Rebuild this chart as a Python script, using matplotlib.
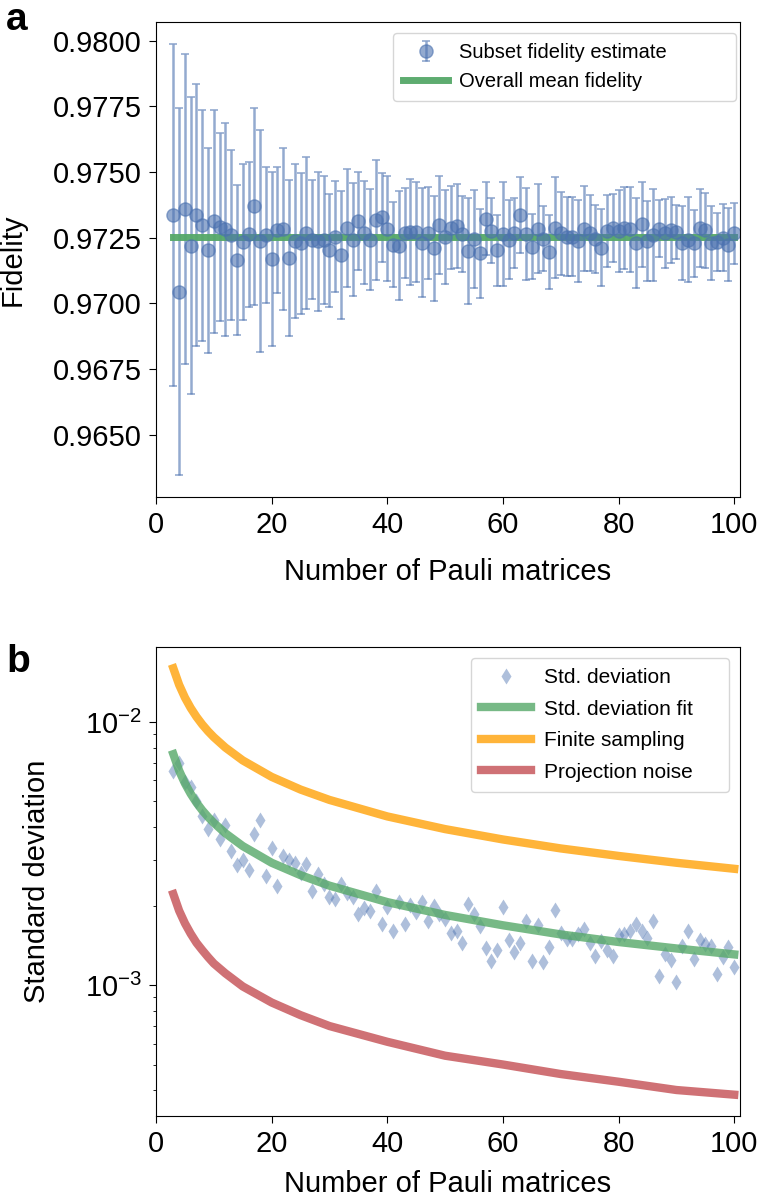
import numpy as np
import matplotlib
matplotlib.use("Agg")
import matplotlib.pyplot as plt

plt.rcParams['font.family'] = ['Liberation Sans', 'DejaVu Sans']
plt.rcParams['font.size'] = 21
plt.rcParams['xtick.major.size'] = 5
plt.rcParams['ytick.major.size'] = 5
plt.rcParams['xtick.major.pad'] = 5
plt.rcParams['ytick.major.pad'] = 5

# Number of Pauli matrices in each subset
n_pauli = list(range(3, 101))

# Subset fidelity estimates (panel a)
fidelity = [
    0.97337, 0.97045, 0.97359, 0.97220, 0.97337, 0.97298, 0.97202, 0.97312, 0.97291, 0.97282,
    0.97259, 0.97164, 0.97233, 0.97263, 0.97369, 0.97237, 0.97259, 0.97169, 0.97279, 0.97282,
    0.97173, 0.97237, 0.97228, 0.97267, 0.97243, 0.97237, 0.97240, 0.97202, 0.97254, 0.97183,
    0.97286, 0.97243, 0.97314, 0.97269, 0.97243, 0.97318, 0.97327, 0.97285, 0.97224, 0.97220,
    0.97267, 0.97272, 0.97272, 0.97231, 0.97269, 0.97209, 0.97297, 0.97254, 0.97288, 0.97295,
    0.97263, 0.97199, 0.97246, 0.97190, 0.97323, 0.97276, 0.97202, 0.97263, 0.97243, 0.97267,
    0.97337, 0.97263, 0.97215, 0.97285, 0.97246, 0.97195, 0.97288, 0.97267, 0.97254, 0.97254,
    0.97237, 0.97285, 0.97267, 0.97246, 0.97212, 0.97276, 0.97288, 0.97276, 0.97288, 0.97282,
    0.97231, 0.97301, 0.97237, 0.97259, 0.97285, 0.97267, 0.97279, 0.97272, 0.97231, 0.97243,
    0.97228, 0.97288, 0.97279, 0.97231, 0.97233, 0.97250, 0.97224, 0.97267,
]

# Standard deviation of the subset estimates (error bars in a, diamonds in b)
std_dev = [
    6.52e-3, 7.00e-3, 5.90e-3, 5.66e-3, 5.00e-3, 4.40e-3, 3.91e-3, 4.23e-3, 3.58e-3, 4.06e-3,
    3.23e-3, 2.86e-3, 2.98e-3, 2.75e-3, 3.74e-3, 4.24e-3, 2.59e-3, 3.33e-3, 2.39e-3, 3.09e-3,
    2.98e-3, 2.92e-3, 2.67e-3, 2.89e-3, 2.28e-3, 2.65e-3, 2.43e-3, 2.16e-3, 2.12e-3, 2.43e-3,
    2.24e-3, 2.16e-3, 1.86e-3, 1.97e-3, 1.91e-3, 2.28e-3, 1.71e-3, 1.98e-3, 1.61e-3, 2.07e-3,
    1.71e-3, 2.01e-3, 1.90e-3, 2.08e-3, 1.75e-3, 2.00e-3, 1.87e-3, 1.79e-3, 1.58e-3, 1.61e-3,
    1.45e-3, 2.03e-3, 1.87e-3, 1.68e-3, 1.39e-3, 1.24e-3, 1.36e-3, 1.98e-3, 1.49e-3, 1.34e-3,
    1.45e-3, 1.75e-3, 1.24e-3, 1.69e-3, 1.23e-3, 1.40e-3, 1.93e-3, 1.58e-3, 1.50e-3, 1.50e-3,
    1.56e-3, 1.63e-3, 1.45e-3, 1.29e-3, 1.47e-3, 1.36e-3, 1.29e-3, 1.55e-3, 1.56e-3, 1.61e-3,
    1.71e-3, 1.61e-3, 1.51e-3, 1.75e-3, 1.08e-3, 1.32e-3, 1.25e-3, 1.03e-3, 1.41e-3, 1.61e-3,
    1.26e-3, 1.49e-3, 1.43e-3, 1.41e-3, 1.10e-3, 1.28e-3, 1.40e-3, 1.17e-3,
]

mean_fidelity = 0.97254

# Model curves read at selected subset sizes (panel b)
curve_n = [3, 4, 5, 6, 7, 8, 9, 10, 12, 15, 20, 25, 30, 40, 50, 60, 70, 80, 90, 100]
fit_curve = [7.55e-3, 6.54e-3, 5.85e-3, 5.34e-3, 4.94e-3, 4.62e-3, 4.36e-3, 4.14e-3, 3.78e-3, 3.38e-3,
             2.92e-3, 2.62e-3, 2.39e-3, 2.07e-3, 1.85e-3, 1.69e-3, 1.56e-3, 1.46e-3, 1.38e-3, 1.31e-3]
finite_sampling = [16.0e-3, 13.85e-3, 12.39e-3, 11.31e-3, 10.47e-3, 9.79e-3, 9.23e-3, 8.76e-3, 8.00e-3, 7.15e-3,
                   6.19e-3, 5.54e-3, 5.06e-3, 4.38e-3, 3.92e-3, 3.58e-3, 3.31e-3, 3.10e-3, 2.92e-3, 2.77e-3]
projection_noise = [2.22e-3, 1.92e-3, 1.72e-3, 1.57e-3, 1.45e-3, 1.36e-3, 1.28e-3, 1.21e-3, 1.11e-3, 0.99e-3,
                    0.86e-3, 0.77e-3, 0.70e-3, 0.61e-3, 0.54e-3, 0.50e-3, 0.46e-3, 0.43e-3, 0.40e-3, 0.384e-3]

blue = '#4C72B0'
green = '#55A868'
orange = '#FFB02E'
red = '#C44E52'

W, H = 758, 1199
fig = plt.figure(figsize=(W / 100, H / 100), dpi=100)

# Panel a
ax1 = fig.add_axes([156 / W, 1 - 497 / H, (740 - 156) / W, (497 - 22) / H])
eb = ax1.errorbar(n_pauli, fidelity, yerr=std_dev, fmt='o', color=blue, ms=9.5, alpha=0.6,
                  elinewidth=1.8, capsize=3, capthick=1.2, ecolor=blue)
mline, = ax1.plot([n_pauli[0], n_pauli[-1]], [mean_fidelity, mean_fidelity], color=green, lw=5,
                  alpha=0.95)
ax1.set_xlim(0, 101)
ax1.set_xticks([0, 20, 40, 60, 80, 100])
ax1.yaxis.set_major_formatter(matplotlib.ticker.FormatStrFormatter('%.4f'))
ax1.set_ylabel('Fidelity')
ax1.yaxis.set_label_coords(-0.222, 0.5)
ax1.set_xlabel('Number of Pauli matrices', labelpad=14)
ax1.legend([eb, mline], ['Subset fidelity estimate', 'Overall mean fidelity'],
           loc='upper left', bbox_to_anchor=(0.406, 0.0, 0.587, 0.977), mode='expand',
           borderaxespad=0, fontsize=14.5, borderpad=0.5, handlelength=2.25, handletextpad=0.5)
fig.text(6 / W, 1 - 20 / H, 'a', fontsize=28, fontweight='bold', va='center')

# Panel b
ax2 = fig.add_axes([156 / W, 1 - 1116 / H, (740 - 156) / W, (1116 - 647) / H])
ax2.semilogy(n_pauli, std_dev, 'd', color=blue, ms=8, alpha=0.45, mec='none', label='Std. deviation')
ax2.plot(curve_n, fit_curve, color=green, lw=6, alpha=0.8, label='Std. deviation fit')
ax2.plot(curve_n, finite_sampling, color=orange, lw=6, alpha=0.95, label='Finite sampling')
ax2.plot(curve_n, projection_noise, color=red, lw=6, alpha=0.8, label='Projection noise')
ax2.set_xlim(0, 101)
ax2.set_xticks([0, 20, 40, 60, 80, 100])
ax2.set_ylabel('Standard deviation')
ax2.yaxis.set_label_coords(-0.18, 0.5)
ax2.set_xlabel('Number of Pauli matrices', labelpad=9)
ax2.legend(loc='upper left', bbox_to_anchor=(0.539, 0.0, 0.442, 0.977), mode='expand',
           borderaxespad=0, fontsize=15, borderpad=0.5, labelspacing=0.6,
           handlelength=2.4, handletextpad=0.6)
fig.text(6 / W, 1 - 662 / H, 'b', fontsize=28, fontweight='bold', va='center')

fig.savefig('out.png', dpi=100)
